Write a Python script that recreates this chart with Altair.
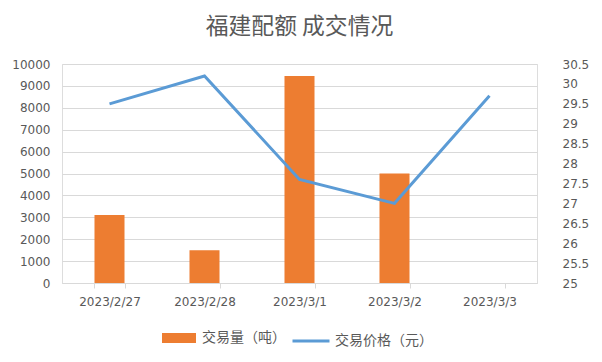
import altair as alt
import pandas as pd

dates = ["2023/2/27", "2023/2/28", "2023/3/1", "2023/3/2", "2023/3/3"]
volume = [3100, 1500, 9450, 5000, 0]
price = [29.5, 30.2, 27.6, 27.0, 29.7]

df = pd.DataFrame({"date": dates, "volume": volume, "price": price,
                   "vname": ["交易量（吨）"] * 5, "pname": ["交易价格（元）"] * 5})

GRAY = "#595959"
x = alt.X("date:N", sort=dates, title=None,
          scale=alt.Scale(paddingInner=0.684, paddingOuter=0.342),
          axis=alt.Axis(labelAngle=0, labelFont="DejaVu Sans", labelFontSize=12, labelColor=GRAY,
                        labelPadding=8, domainColor="#d9d9d9", tickColor="#d9d9d9", tickSize=5,
                        tickBand="extent", grid=False))

bars = alt.Chart(df).mark_bar(color="#ED7D31").encode(
    x=x,
    y=alt.Y("volume:Q", title=None,
            scale=alt.Scale(domain=[0, 10000], nice=False),
            axis=alt.Axis(values=list(range(0, 10001, 1000)), format="d", labelFont="DejaVu Sans",
                          labelFontSize=12, labelColor=GRAY, domain=False, ticks=False, labelPadding=12,
                          grid=True, gridColor="#d9d9d9")),
    fill=alt.Fill("vname:N", title=None,
                  scale=alt.Scale(domain=["交易量（吨）"], range=["#ED7D31"]),
                  legend=alt.Legend(orient="none", legendX=100, legendY=257,
                                    symbolType="M-1,-0.294H1V0.294H-1Z", symbolSize=1156,
                                    symbolStrokeWidth=0, labelFont="Noto Sans CJK SC",
                                    labelFontSize=14, labelColor=GRAY, labelOffset=6)),
)

line = alt.Chart(df).mark_line(color="#5B9BD5", strokeWidth=3).encode(
    x=x,
    y=alt.Y("price:Q", title=None,
            scale=alt.Scale(domain=[25, 30.5], nice=False, zero=False),
            axis=alt.Axis(orient="right", values=[25 + 0.5 * i for i in range(12)], format=".1~f",
                          labelFont="DejaVu Sans", labelFontSize=12, labelColor=GRAY,
                          domain=False, ticks=False, grid=False, labelPadding=25)),
    stroke=alt.Stroke("pname:N", title=None,
                      scale=alt.Scale(domain=["交易价格（元）"], range=["#5B9BD5"]),
                      legend=alt.Legend(orient="none", legendX=229, legendY=257,
                                        symbolType="stroke", symbolSize=1369, symbolStrokeWidth=3,
                                        labelFont="Noto Sans CJK SC", labelFontSize=14,
                                        labelColor=GRAY, labelOffset=4)),
)

chart = alt.layer(bars, line).resolve_scale(y="independent", fill="independent", stroke="independent").properties(
    width=475, height=219,
    autosize=alt.AutoSizeParams(type="none"),
    padding={"left": 54, "top": 56, "right": 57, "bottom": 71},
    title=alt.TitleParams("福建配额 成交情况", font="Noto Sans CJK SC", fontSize=22.8,
                          fontWeight="normal", color=GRAY, offset=19),
).configure_view(stroke=None).configure(background="white")

chart.save("out.html", embed_options={"renderer": "svg", "actions": False})
